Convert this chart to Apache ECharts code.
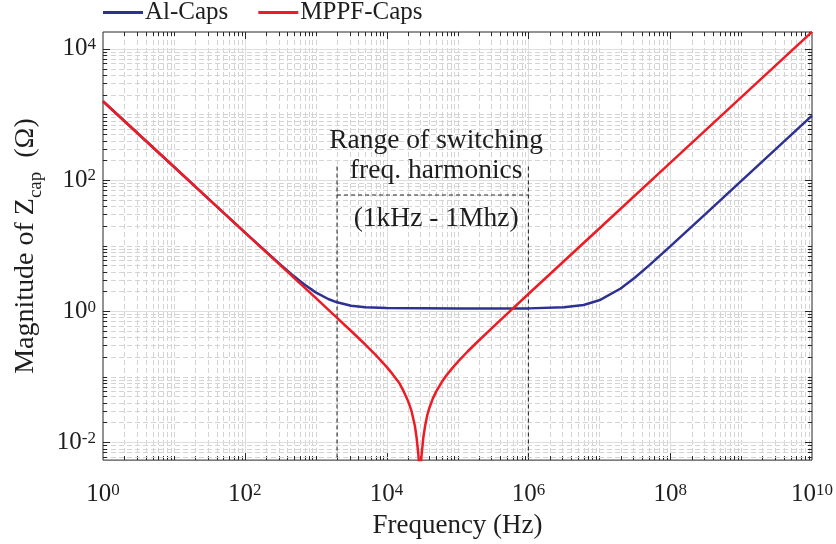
<!DOCTYPE html>
<html>
<head>
<meta charset="utf-8">
<script src="https://cdn.jsdelivr.net/npm/echarts@6/dist/echarts.min.js"></script>
<style>
  html, body { margin: 0; padding: 0; background: #fff; }
  #chart { width: 836px; height: 544px; }
</style>
</head>
<body>
<div id="chart"></div>
<script>
const FONT = '"Liberation Serif", "Times New Roman", serif';
const INK = '#1e1e1e';

// |Z| of the aluminium caps (Hz, ohm)
const alFreq = [1, 3.16, 10, 31.6, 100, 200, 316, 500, 700, 1000, 1500, 2000, 3160, 5000, 1e4,
  1e5, 1e6, 3.16e6, 6e6, 1e7, 2e7, 3.16e7, 5e7, 1e8, 3.16e8, 1e9, 3.16e9, 1e10];
const alZ = [1590, 503, 159, 50.3, 15.9, 8.04, 5.15, 3.36, 2.53, 1.93, 1.53, 1.36, 1.21, 1.145, 1.11,
  1.1, 1.1, 1.14, 1.24, 1.46, 2.21, 3.23, 4.93, 9.7, 30.4, 96, 304, 960];

// |Z| of the film caps (dip at the self-resonance)
const mppfFreq = [1, 3.16, 10, 31.6, 100, 316, 1000, 2000, 3160, 5000, 7000, 1e4, 1.2e4, 1.5e4, 1.75e4,
  2e4, 2.25e4, 2.5e4, 2.65e4, 2.8e4, 2.95e4, 3.1e4, 3.3e4, 3.5e4, 3.75e4, 4e4, 4.5e4, 5e4, 6e4, 7e4,
  8.5e4, 1e5, 1.4e5, 2e5, 3.16e5, 5e5, 1e6, 3.16e6, 1e7, 1e8, 1e9, 1e10];
const mppfZ = [1590, 503, 159, 50.3, 15.9, 5.03, 1.59, 0.79, 0.497, 0.309, 0.215, 0.141, 0.111, 0.081, 0.059,
  0.043, 0.0297, 0.018, 0.0117, 0.0066, 0.003, 0.006, 0.0119, 0.018, 0.0259, 0.033, 0.0466, 0.059, 0.0828, 0.105,
  0.136, 0.166, 0.244, 0.356, 0.571, 0.908, 1.82, 5.76, 18.2, 182, 1822, 18200];

const xMin = 1, xMax = 1e10;
const yMin = 0.00533, yMax = 18100;
const xLabelValues = [1, 1e2, 1e4, 1e6, 1e8, 1e10];
const yLabelValues = [1e-2, 1, 1e2, 1e4];

// switching-harmonics band annotation
const bandFreq = [2000, 1e6];
const bandTop = 160;
const bandBox = 59;
const noteText = ['Range of switching', 'freq. harmonics', '(1kHz - 1Mhz)'];
const noteFreq = 50000;
const noteZ = [390, 137, 25.7];

// grid / tick positions, matlab style: solid on labelled decades, dashed elsewhere
const xGrid = [];
for (let k = 0; k < 10; k++) {
  for (let m = 1; m <= 9; m++) {
    const v = m * Math.pow(10, k);
    if (v <= xMin || v >= xMax) continue;
    xGrid.push([v, 1, (m === 1 && k % 2 === 0) ? 1 : 0]);
  }
}
const yGrid = [];
for (let k = -3; k <= 4; k++) {
  for (let m = 1; m <= 9; m++) {
    const v = m * Math.pow(10, k);
    if (v <= yMin || v >= yMax) continue;
    yGrid.push([1, v, (m === 1 && k % 2 === 0) ? 1 : 0]);
  }
}

const gridMajor = { stroke: '#dedede', lineWidth: 1 };
const gridMinor = { stroke: '#d4d4d4', lineWidth: 1, lineDash: [5, 3] };
const tickStyle = { stroke: '#262626', lineWidth: 1 };

function xDecor(params, api) {
  const cs = params.coordSys;
  const x = Math.round(api.coord([api.value(0), 1])[0]) + 0.5;
  const major = api.value(2) === 1;
  const top = cs.y, bot = cs.y + cs.height;
  const len = major ? 7 : 4;
  return { type: 'group', children: [
    { type: 'line', shape: { x1: x, y1: top, x2: x, y2: bot }, style: major ? gridMajor : gridMinor },
    { type: 'line', shape: { x1: x, y1: bot, x2: x, y2: bot - len }, style: tickStyle },
    { type: 'line', shape: { x1: x, y1: top, x2: x, y2: top + len }, style: tickStyle }
  ]};
}

function yDecor(params, api) {
  const cs = params.coordSys;
  const y = Math.round(api.coord([1, api.value(1)])[1]) + 0.5;
  const major = api.value(2) === 1;
  const left = cs.x, right = cs.x + cs.width;
  const len = major ? 7 : 4;
  return { type: 'group', children: [
    { type: 'line', shape: { x1: left, y1: y, x2: right, y2: y }, style: major ? gridMajor : gridMinor },
    { type: 'line', shape: { x1: left, y1: y, x2: left + len, y2: y }, style: tickStyle },
    { type: 'line', shape: { x1: right, y1: y, x2: right - len, y2: y }, style: tickStyle }
  ]};
}

const powLabel = v => '{b|10}{s|' + Math.round(Math.log10(v)) + '}';
const powRich = {
  b: { fontSize: 25, lineHeight: 25, fontFamily: FONT, color: INK, padding: [8, 0, 0, 0], verticalAlign: 'bottom' },
  s: { fontSize: 17, lineHeight: 17, fontFamily: FONT, color: INK, verticalAlign: 'top' }
};

const chart = echarts.init(document.getElementById('chart'));

chart.setOption({
  animation: false,
  backgroundColor: '#fff',
  textStyle: { fontFamily: FONT, color: INK },
  legend: {
    left: 103,
    top: 0,
    padding: 0,
    itemGap: 30,
    itemWidth: 40,
    itemHeight: 3,
    icon: 'rect',
    textStyle: { fontFamily: FONT, fontSize: 25, lineHeight: 25, color: INK, padding: [0, 0, 0, -3] },
    data: ['Al-Caps', 'MPPF-Caps']
  },
  grid: {
    left: 103, right: 23, top: 32, bottom: 81,
    show: true, borderColor: '#262626', borderWidth: 1, backgroundColor: 'transparent'
  },
  xAxis: {
    type: 'log',
    logBase: 10,
    min: xMin,
    max: xMax,
    name: 'Frequency (Hz)',
    nameLocation: 'middle',
    nameGap: 47,
    nameTextStyle: { fontFamily: FONT, fontSize: 27, color: INK },
    axisLine: { show: false },
    axisTick: { show: false },
    splitLine: { show: false },
    axisLabel: {
      customValues: xLabelValues,
      margin: 22,
      formatter: powLabel,
      rich: powRich
    }
  },
  yAxis: {
    type: 'log',
    logBase: 10,
    min: yMin,
    max: yMax,
    name: '{a|Magnitude of Z}{c|cap}{a|  (Ω)}',
    nameLocation: 'middle',
    nameRotate: 90,
    nameGap: 58,
    nameTextStyle: {
      rich: {
        a: { fontFamily: FONT, fontSize: 28, lineHeight: 28, color: INK, verticalAlign: 'top' },
        c: { fontFamily: FONT, fontSize: 19, lineHeight: 19, color: INK, padding: [15, 0, 0, 0], verticalAlign: 'top' }
      }
    },
    axisLine: { show: false },
    axisTick: { show: false },
    splitLine: { show: false },
    axisLabel: {
      customValues: yLabelValues,
      margin: 7,
      formatter: powLabel,
      rich: powRich
    }
  },
  series: [
    {
      type: 'custom', name: 'xgrid', silent: true, z: 1,
      renderItem: xDecor, encode: { x: 0, y: 1 }, data: xGrid
    },
    {
      type: 'custom', name: 'ygrid', silent: true, z: 1,
      renderItem: yDecor, encode: { x: 0, y: 1 }, data: yGrid
    },
    {
      type: 'line', name: 'band-left', silent: true, z: 3, showSymbol: false,
      lineStyle: { color: '#2a2a2a', width: 1.1, type: [4, 3] },
      data: [[bandFreq[0], bandTop], [bandFreq[0], yMin]]
    },
    {
      type: 'line', name: 'band-right', silent: true, z: 3, showSymbol: false,
      lineStyle: { color: '#2a2a2a', width: 1.1, type: [4, 3] },
      data: [[bandFreq[1], bandTop], [bandFreq[1], yMin]]
    },
    {
      type: 'line', name: 'band-top', silent: true, z: 3, showSymbol: false,
      lineStyle: { color: '#2a2a2a', width: 1.1, type: [4, 3] },
      data: [[bandFreq[0], bandBox], [bandFreq[1], bandBox]]
    },
    {
      type: 'scatter', name: 'note', silent: true, z: 5, symbolSize: 0,
      itemStyle: { opacity: 1 },
      data: noteText.map((t, i) => [noteFreq, noteZ[i], t]),
      label: {
        show: true, position: 'inside', opacity: 1,
        formatter: p => p.data[2],
        fontFamily: FONT, fontSize: 27.5, color: INK
      }
    },
    {
      type: 'line', name: 'Al-Caps', z: 4, showSymbol: false, clip: true,
      color: '#2e3192',
      lineStyle: { color: '#2e3192', width: 2.5 },
      data: alFreq.map((f, i) => [f, alZ[i]])
    },
    {
      type: 'line', name: 'MPPF-Caps', z: 4, showSymbol: false, clip: true,
      color: '#ed1c24',
      lineStyle: { color: '#ed1c24', width: 2.5 },
      data: mppfFreq.map((f, i) => [f, mppfZ[i]])
    }
  ]
});
</script>
</body>
</html>
